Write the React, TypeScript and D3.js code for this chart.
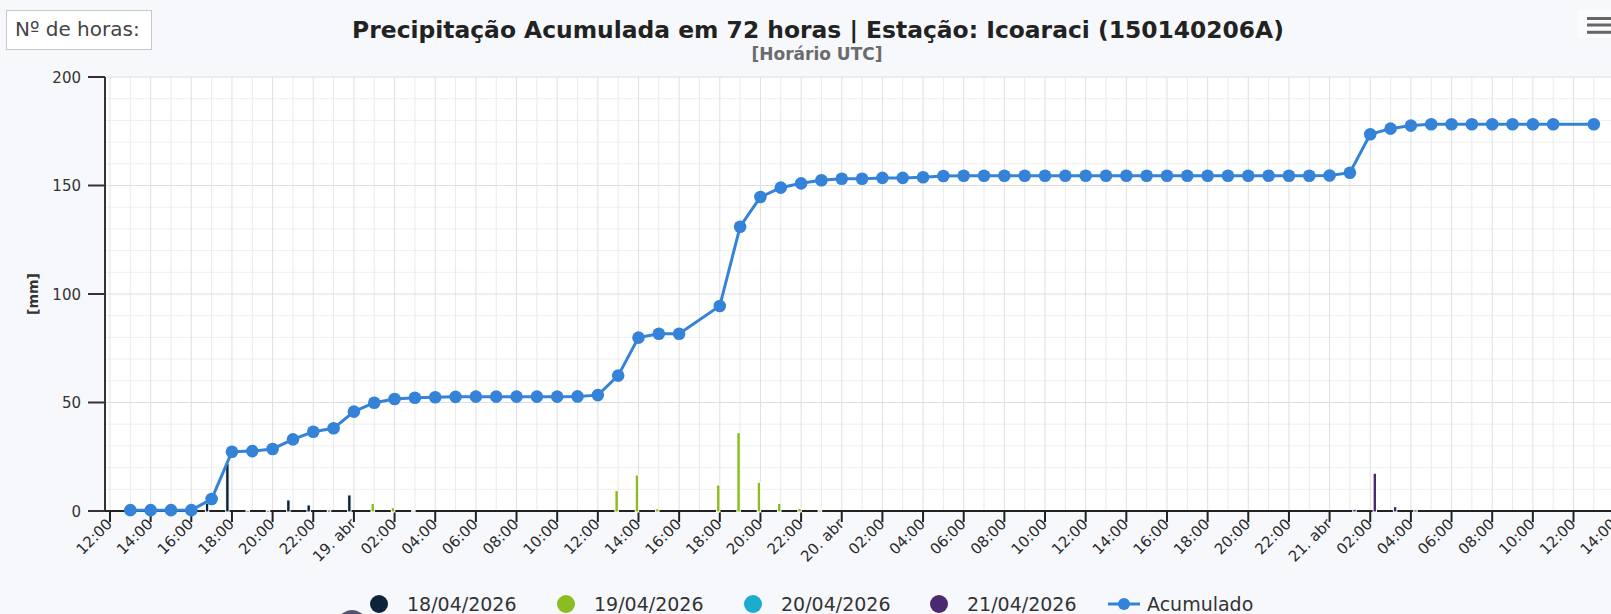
import React from 'react';
import * as d3 from 'd3';

const W = 1611;
const H = 614;

// acumulado (mm), hora a hora a partir de 18/04 13:00 UTC
const inicioAcumulado = new Date(Date.UTC(2026, 3, 18, 13));
const acumulado: (number | null)[] = [
  // 18/04 13h-23h
  0.4, 0.4, 0.4, 0.4, 5.5, 27.3, 27.6, 28.6, 33.0, 36.5, 38.1,
  // 19/04 00h-23h
  45.8, 49.9, 51.6, 52.2, 52.4, 52.6, 52.7, 52.7, 52.7, 52.7, 52.7, 52.8,
  53.4, 62.4, 79.9, 81.7, 81.7, null, 94.5, 131.0, 144.7, 149.0, 151.0, 152.4,
  // 20/04 00h-23h
  153.1, 153.1, 153.5, 153.5, 153.8, 154.4, 154.5, 154.5, 154.5, 154.5, 154.5, 154.5,
  154.5, 154.5, 154.5, 154.5, 154.5, 154.5, 154.5, 154.5, 154.5, 154.5, 154.5, 154.5,
  // 21/04 00h-13h
  154.6, 155.9, 173.6, 176.2, 177.6, 178.2, 178.2, 178.2, 178.2, 178.2, 178.2, 178.2,
  null, 178.2,
];

// chuva horária (mm) por dia
const chuva18 = [0, 0, 0, 0, 3.5, 22.0, 0.2, 0.2, 5.1, 2.8, 0.4, 7.4]; // 18/04 13h -> 19/04 00h
const chuva19 = [
  3.5, 1.5, 0.2, 0, 0, 0, 0, 0, 0, 0, 0, 0,
  9.4, 16.6, 1.0, 0, null, 12.0, 36.1, 13.2, 3.5, 1.2, 0.4, 0,
]; // 19/04 01h -> 20/04 00h
const chuva20 = [
  0, 0, 0, 0, 0, 0, 0, 0, 0, 0, 0, 0,
  0, 0, 0, 0, 0, 0, 0, 0, 0, 0, 0, 0,
]; // 20/04 01h -> 21/04 00h
const chuva21 = [0.8, 17.4, 2.0, 0.5, 0, 0, 0, 0, 0, 0, 0, null, 0]; // 21/04 01h -> 13h

const series = [
  { nome: '18/04/2026', cor: '#0d233a', inicio: new Date(Date.UTC(2026, 3, 18, 13)), valores: chuva18 },
  { nome: '19/04/2026', cor: '#8bbc21', inicio: new Date(Date.UTC(2026, 3, 19, 1)), valores: chuva19 },
  { nome: '20/04/2026', cor: '#1aadce', inicio: new Date(Date.UTC(2026, 3, 20, 1)), valores: chuva20 },
  { nome: '21/04/2026', cor: '#492970', inicio: new Date(Date.UTC(2026, 3, 21, 1)), valores: chuva21 },
];
const corAcumulado = '#3583d9';

const yTicks = [0, 50, 100, 150, 200];
const meses = ['jan', 'fev', 'mar', 'abr', 'mai', 'jun', 'jul', 'ago', 'set', 'out', 'nov', 'dez'];

const FONT = '"DejaVu Sans", Verdana, sans-serif';

export default function App() {
  const left = 105;
  const top = 77;
  const bottom = 511;

  const x = d3
    .scaleUtc()
    .domain([new Date(Date.UTC(2026, 3, 18, 12)), new Date(Date.UTC(2026, 3, 21, 12))])
    .range([110, 1573.5]);
  const y = d3.scaleLinear().domain([0, 200]).range([bottom, top]);

  const tFim = x.invert(W + 10);
  const tIni = x.invert(left);
  const horas = d3.utcHour.range(d3.utcHour.ceil(tIni), tFim);
  const ticks = d3.utcHour.every(2)!.range(d3.utcHour.ceil(tIni), tFim);
  const fmt = (d: Date) =>
    d.getUTCHours() === 0 ? `${d.getUTCDate()}. ${meses[d.getUTCMonth()]}` : d3.utcFormat('%H:%M')(d);

  const slot = x(d3.utcHour.offset(x.domain()[0], 1)) - x(x.domain()[0]);
  const band = d3
    .scaleBand<string>()
    .domain(series.map((s) => s.nome))
    .range([-slot * 0.3, slot * 0.3])
    .paddingInner(0.2)
    .paddingOuter(0.1);

  const pontos = acumulado
    .map((v, i) => ({ t: d3.utcHour.offset(inicioAcumulado, i), v }))
    .filter((p) => p.v !== null) as { t: Date; v: number }[];

  const linha = d3
    .line<{ t: Date; v: number }>()
    .x((p) => x(p.t))
    .y((p) => y(p.v));

  const yMinor = d3.range(0, 201, 10).filter((v) => v % 50 !== 0);

  const legendX = [379, 566, 753, 939];

  return (
    <svg
      width={W}
      height={H}
      style={{ position: 'absolute', left: 0, top: 0, fontFamily: FONT }}
    >
      <rect x={0} y={0} width={W} height={H} fill="#f7f8fb" />
      <rect x={left} y={top} width={W - left} height={bottom - top} fill="#ffffff" />

      {/* grade */}
      {yMinor.map((v) => (
        <line key={'ym' + v} x1={left} x2={W} y1={y(v)} y2={y(v)} stroke="#efefef" />
      ))}
      {horas.map((h) => (
        <line
          key={'xg' + h.getTime()}
          x1={x(h)}
          x2={x(h)}
          y1={top}
          y2={bottom}
          stroke={h.getUTCHours() % 2 === 0 ? '#e0e0e0' : '#eaeaea'}
        />
      ))}
      {yTicks.map((v) => (
        <line key={'yg' + v} x1={left} x2={W} y1={y(v)} y2={y(v)} stroke="#dedede" />
      ))}

      {/* eixos */}
      <line x1={left} x2={left} y1={top} y2={bottom} stroke="#333" strokeWidth={2} />
      <line x1={left} x2={W} y1={bottom} y2={bottom} stroke="#222" strokeWidth={2} />
      {yTicks.map((v) => (
        <g key={'yt' + v}>
          <line x1={88} x2={left} y1={y(v)} y2={y(v)} stroke="#333" strokeWidth={2} />
          <text x={81} y={y(v) + 5.5} textAnchor="end" fontSize={15} fill="#333">
            {v}
          </text>
        </g>
      ))}
      {ticks.map((t) => (
        <g key={'xt' + t.getTime()}>
          <line x1={x(t)} x2={x(t)} y1={bottom} y2={bottom + 11} stroke="#222" strokeWidth={2} />
          <text
            transform={`translate(${x(t) + 3},${bottom + 14}) rotate(-45)`}
            textAnchor="end"
            fontSize={15}
            fill="#2a2a2a"
          >
            {fmt(t)}
          </text>
        </g>
      ))}

      {/* colunas */}
      {series.map((s) =>
        s.valores.map((v, i) => {
          if (v === null || v <= 0) return null;
          const t = d3.utcHour.offset(s.inicio, i);
          const bx = x(t) + (band(s.nome) as number);
          return (
            <rect
              key={s.nome + i}
              x={bx - 0.5}
              y={y(v)}
              width={band.bandwidth() + 1}
              height={y(0) - y(v) + 1}
              fill={s.cor}
              stroke="#ffffff"
              strokeWidth={1}
            />
          );
        })
      )}

      {/* acumulado */}
      <path d={linha(pontos) || ''} fill="none" stroke={corAcumulado} strokeWidth={3} />
      {pontos.map((p) => (
        <circle key={'p' + p.t.getTime()} cx={x(p.t)} cy={y(p.v)} r={6.3} fill={corAcumulado} />
      ))}

      {/* títulos */}
      <text x={818} y={38} textAnchor="middle" fontSize={23.4} fontWeight="bold" fill="#222">
        Precipitação Acumulada em 72 horas | Estação: Icoaraci (150140206A)
      </text>
      <text x={817} y={60} textAnchor="middle" fontSize={17} fontWeight="bold" fill="#6b6b6b">
        [Horário UTC]
      </text>
      <text
        transform="translate(38,294) rotate(-90)"
        textAnchor="middle"
        fontSize={14}
        fontWeight="bold"
        fill="#333"
      >
        [mm]
      </text>

      {/* caixa nº de horas */}
      <rect x={6.5} y={10.5} width={145} height={39} fill="#ffffff" stroke="#c8c8c8" />
      <text x={15} y={36} fontSize={20} fill="#444">
        Nº de horas:
      </text>

      {/* menu */}
      <rect x={1577} y={10} width={40} height={28} fill="#fbfbfd" />
      {[18.5, 25, 32.3].map((yy) => (
        <line key={yy} x1={1587} x2={W} y1={yy} y2={yy} stroke="#666" strokeWidth={3} />
      ))}

      {/* legenda */}
      {series.map((s, i) => (
        <g key={'lg' + s.nome}>
          <circle cx={legendX[i]} cy={604} r={9} fill={s.cor} />
          <text x={legendX[i] + 28} y={611} fontSize={19} fill="#333">
            {s.nome}
          </text>
        </g>
      ))}
      <line x1={1108} x2={1140} y1={604} y2={604} stroke={corAcumulado} strokeWidth={3} />
      <circle cx={1124} cy={604} r={6} fill={corAcumulado} />
      <text x={1147} y={611} fontSize={19} fill="#333">
        Acumulado
      </text>

      <ellipse cx={352} cy={638} rx={20} ry={28} fill="#3a3560" opacity={0.85} />
    </svg>
  );
}
